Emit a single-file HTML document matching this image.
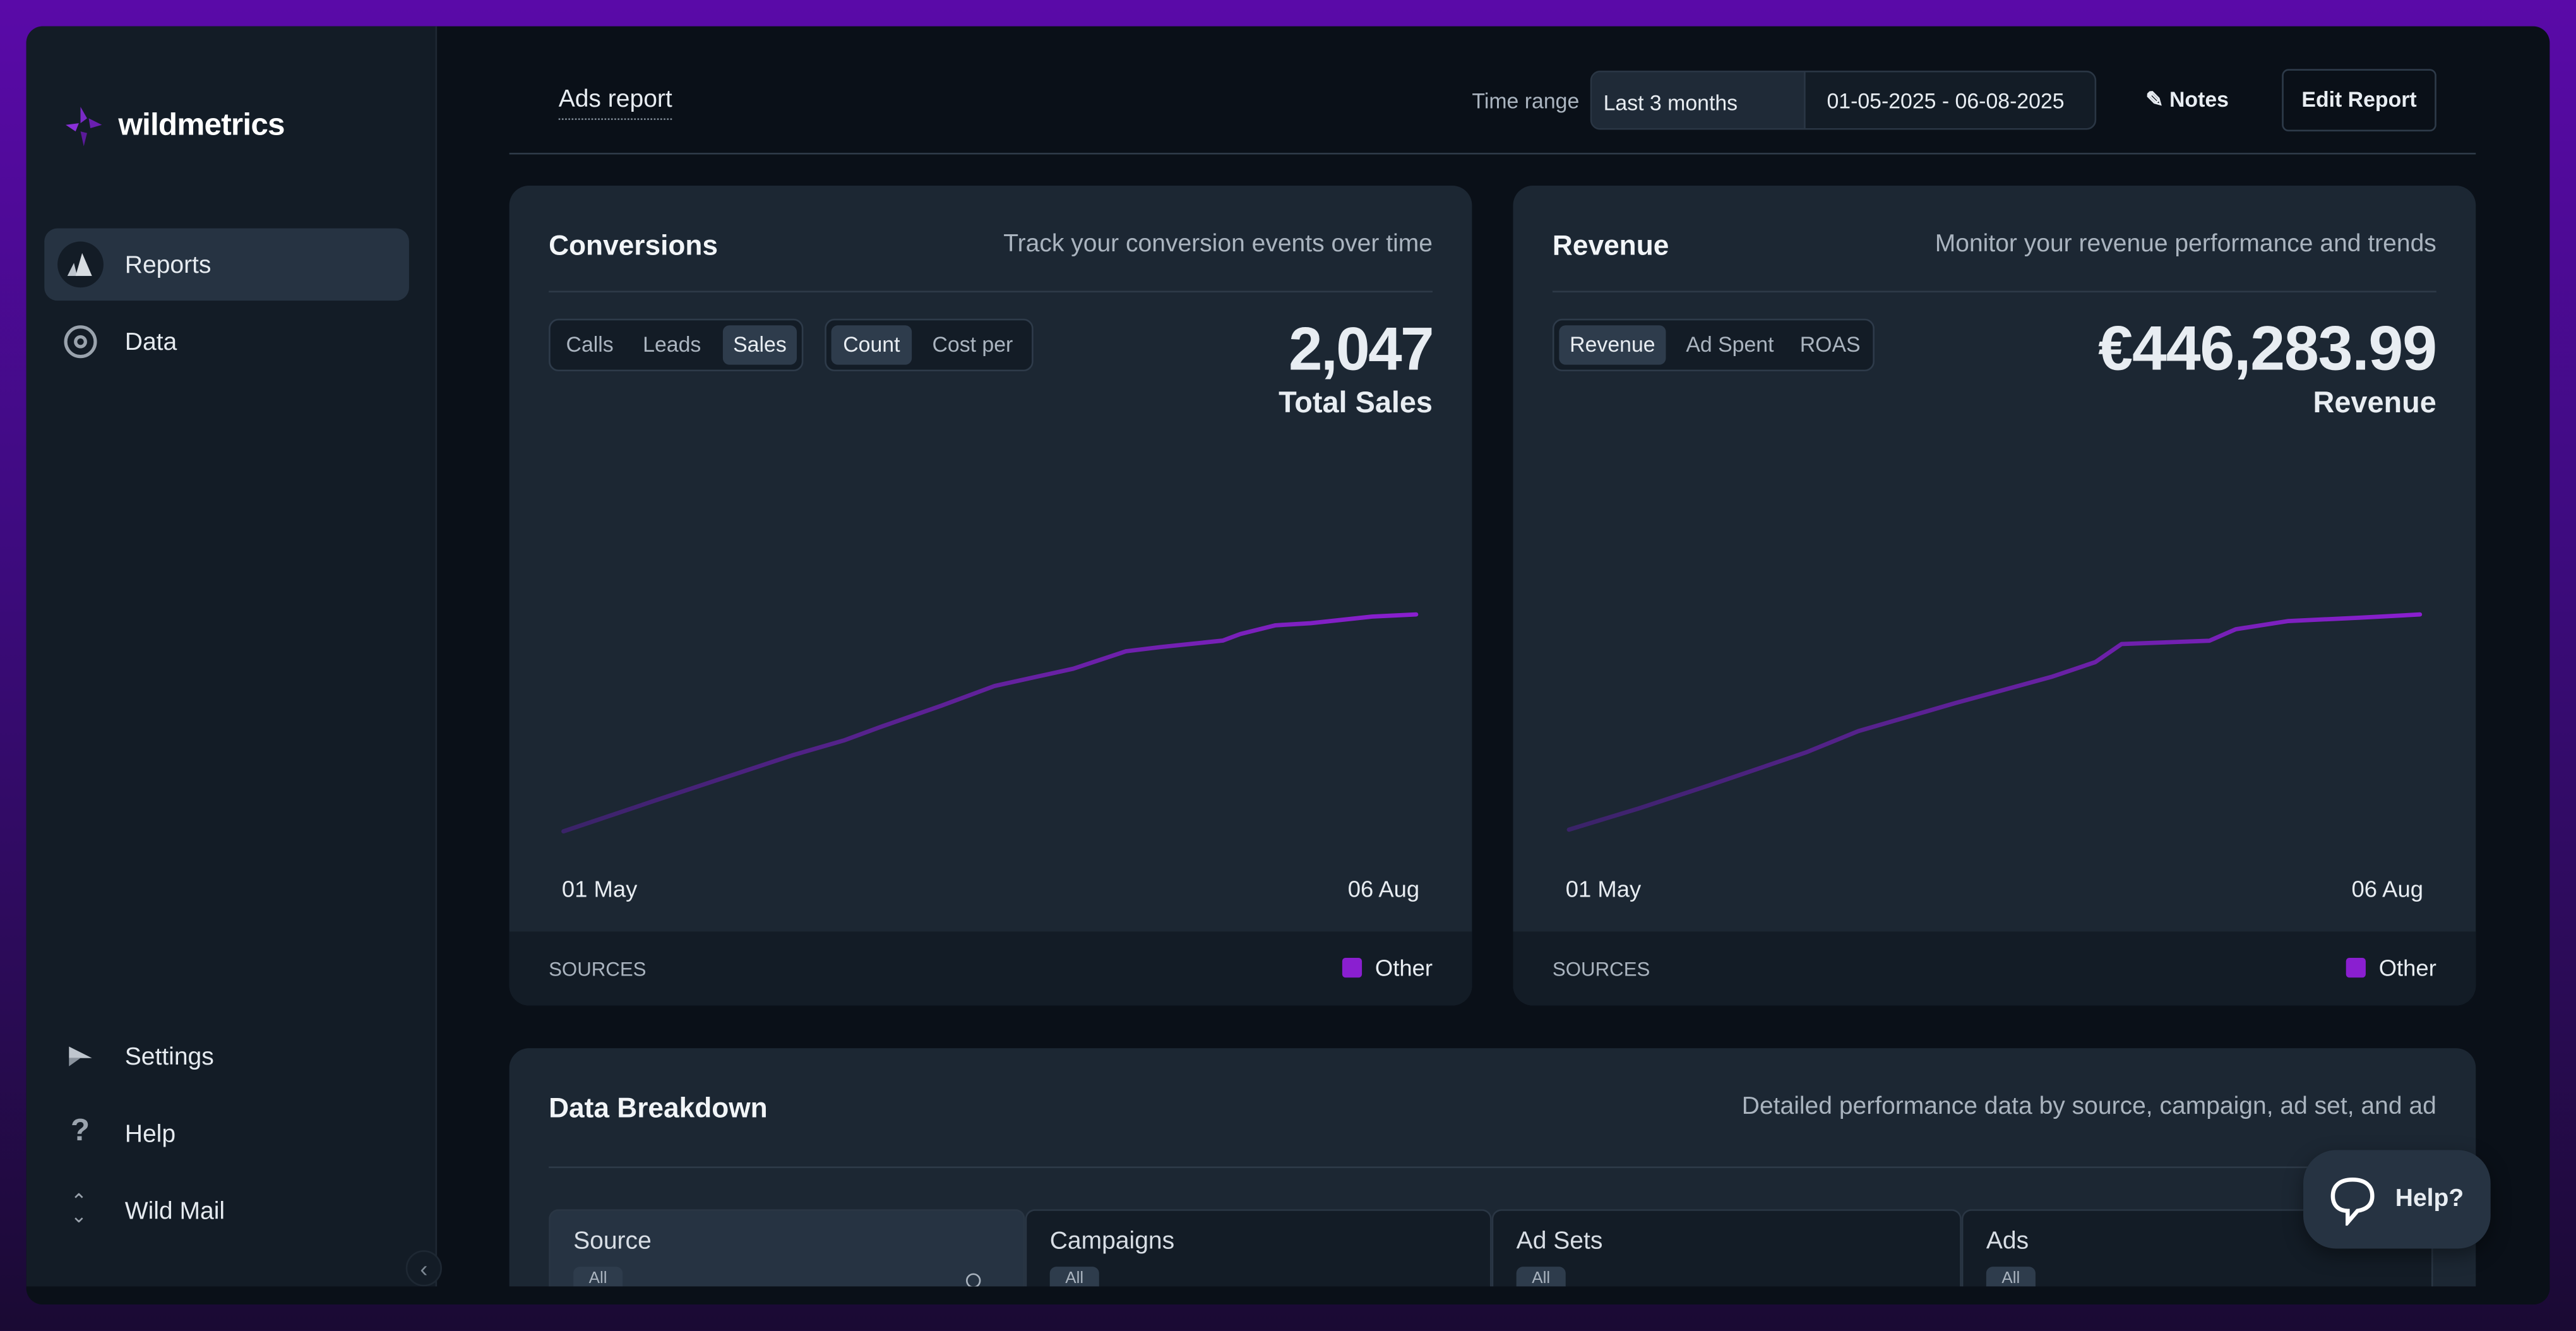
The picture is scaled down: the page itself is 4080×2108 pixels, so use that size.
<!DOCTYPE html>
<html><head><meta charset="utf-8">
<style>
*{box-sizing:border-box;margin:0;padding:0}
html,body{width:4080px;height:2108px;overflow:hidden;background:#2a0a5a}
body{font-family:"Liberation Sans",sans-serif;color:#e8edf2}
#stage{position:absolute;left:0;top:0;width:1568px;height:810px;transform:scale(2.60204);transform-origin:0 0;
 background:linear-gradient(180deg,#5a0aa8 0%,#3e0b80 40%,#2a0b55 75%,#1a0a33 100%)}
.abs{position:absolute}
#win{left:16px;top:16px;width:1536px;height:778px;border-radius:10px;background:#0a1018;overflow:hidden}
#side{left:0;top:0;width:250px;height:778px;background:#131c26;border-right:1px solid #1e2833}
.nav{position:absolute;left:11px;width:222px;height:44px;border-radius:8px;font-size:15px;color:#e6ebf0}
.nav span{position:absolute;left:49px;top:14px}
.card{background:#1c2733;border-radius:12px;overflow:hidden}
.title{font-size:17px;font-weight:bold;color:#f2f5f8}
.sub{font-size:15px;color:#aab4bf;text-align:right}
.seg{position:absolute;height:32px;border:1px solid #2e3b4a;border-radius:6px;background:#131c26}
.seg div{position:absolute;top:3px;height:24px;border-radius:4px;font-size:13px;color:#aab4bf;line-height:24px;text-align:center}
.seg .on{background:#2e3c4c;color:#e8edf2}
.foot{position:absolute;left:0;bottom:0;width:100%;height:45px;background:#131c26}
.tab{position:absolute;top:98px;height:50px;border:1px solid #2a3644;border-bottom:none;border-radius:6px 6px 0 0;background:#131c26;font-size:15px;color:#d8dee5}
.tab span{position:absolute;left:14px;top:10px}
.tab i{position:absolute;left:14px;top:34px;width:30px;height:16px;border-radius:4px;background:#2e3c4c;font-style:normal;font-size:10px;color:#aab4bf;text-align:center;line-height:16px}
</style></head>
<body>
<div id="stage">
<div id="win" class="abs">
 <div id="side" class="abs">
  <svg class="abs" style="left:22px;top:48px" width="26" height="26" viewBox="0 0 26 26">
   <path d="M11 1 L15 8 L11 11 Z" fill="#7a2ac8"/><path d="M16 8 L24 12 L17 14 Z" fill="#6a1fb0"/><path d="M2 12 L10 11 L8 16 Z" fill="#8a30d8"/><path d="M11 16 L15 17 L13 25 Z" fill="#5a1a9a"/>
  </svg>
  <div class="abs" style="left:56px;top:50px;font-size:19px;font-weight:bold;color:#fff;letter-spacing:-0.3px">wildmetrics</div>
  <div class="nav" style="top:123px;background:#263342">
   <div class="abs" style="left:8px;top:8px;width:28px;height:28px;border-radius:50%;background:#131c26"></div>
   <svg class="abs" style="left:14px;top:15px" width="16" height="14" viewBox="0 0 16 14"><path d="M0 14 L4 6 L6 14Z" fill="#bfc6ce"/><path d="M5 14 L9 0 L15 14Z" fill="#d8dde2"/></svg>
   <span>Reports</span></div>
  <div class="nav" style="top:170px">
   <div class="abs" style="left:12px;top:12px;width:20px;height:20px;border-radius:50%;border:2px solid #9aa3ad"></div>
   <div class="abs" style="left:18px;top:18px;width:8px;height:8px;border-radius:50%;border:2px solid #9aa3ad"></div>
   <span>Data</span></div>
  <div class="nav" style="top:605px">
   <svg class="abs" style="left:14px;top:14px" width="16" height="16" viewBox="0 0 16 16"><path d="M1 2 L15 9 L1 9Z" fill="#bfc6ce"/><path d="M1 9 L8 9 L1 14Z" fill="#8a939d"/></svg>
   <span>Settings</span></div>
  <div class="nav" style="top:652px">
   <div class="abs" style="left:16px;top:10px;font-size:19px;font-weight:bold;color:#9aa3ad">?</div><span>Help</span></div>
  <div class="nav" style="top:699px">
   <div class="abs" style="left:16px;top:12px;font-size:12px;color:#9aa3ad;line-height:9px">⌃<br>⌄</div><span>Wild Mail</span></div>
 </div>
 <div class="abs" style="left:231px;top:745px;width:22px;height:22px;border-radius:50%;background:#131c26;border:1px solid #1e2833;color:#7d8893;font-size:14px;text-align:center;line-height:20px">‹</div>

 <div class="abs" style="left:324px;top:36px;font-size:15px;color:#e8edf2;padding-bottom:3px;border-bottom:1px dotted #7d8893">Ads report</div>
 <div class="abs" style="left:880px;top:38px;font-size:13px;color:#aab4bf">Time range</div>
 <div class="abs" style="left:952px;top:27px;width:308px;height:36px;border:1px solid #2a3644;border-radius:6px;background:#131c26;overflow:hidden">
  <div class="abs" style="left:0;top:0;width:130px;height:36px;background:#1f2a37;border-right:1px solid #2a3644;font-size:13px;padding:11px 7px">Last 3 months</div>
  <div class="abs" style="left:143px;top:10px;font-size:13px">01-05-2025 - 06-08-2025</div>
 </div>
 <div class="abs" style="left:1290px;top:37px;font-size:13px;font-weight:bold">✎ Notes</div>
 <div class="abs" style="left:1373px;top:26px;width:94px;height:38px;border:1px solid #2e3b4a;border-radius:4px;font-size:13px;font-weight:bold;text-align:center;line-height:36px">Edit Report</div>
 <div class="abs" style="left:294px;top:77px;width:1197px;height:1px;background:#2e3a48"></div>

 <!-- Conversions -->
 <div class="abs card" style="left:294px;top:97px;width:586px;height:499px">
  <div class="abs title" style="left:24px;top:27px">Conversions</div>
  <div class="abs sub" style="right:24px;top:27px">Track your conversion events over time</div>
  <div class="abs" style="left:24px;top:64px;width:538px;height:1px;background:#2e3a48"></div>
  <div class="seg" style="left:24px;top:81px;width:155px">
   <div style="left:3px;width:42px">Calls</div>
   <div style="left:50px;width:48px">Leads</div>
   <div class="on" style="left:105px;width:45px">Sales</div></div>
  <div class="seg" style="left:192px;top:81px;width:127px">
   <div class="on" style="left:3px;width:49px">Count</div>
   <div style="left:56px;width:66px">Cost per</div></div>
  <div class="abs" style="right:24px;top:79px;font-size:37px;font-weight:bold;letter-spacing:-1px">2,047</div>
  <div class="abs" style="right:24px;top:122px;font-size:18px;font-weight:bold">Total Sales</div>
  <svg id="convChart" class="abs" style="left:0;top:0" width="586" height="499"></svg>
  <div class="abs" style="left:32px;top:420px;font-size:14px">01 May</div>
  <div class="abs" style="right:32px;top:420px;font-size:14px">06 Aug</div>
  <div class="foot">
   <div class="abs" style="left:24px;top:16px;font-size:12px;color:#aab4bf">SOURCES</div>
   <div class="abs" style="right:24px;top:14px;font-size:14px"><span style="display:inline-block;width:12px;height:12px;background:#8a1fd0;border-radius:2px;margin-right:8px;vertical-align:-1px"></span>Other</div>
  </div>
 </div>

 <!-- Revenue -->
 <div class="abs card" style="left:905px;top:97px;width:586px;height:499px">
  <div class="abs title" style="left:24px;top:27px">Revenue</div>
  <div class="abs sub" style="right:24px;top:27px">Monitor your revenue performance and trends</div>
  <div class="abs" style="left:24px;top:64px;width:538px;height:1px;background:#2e3a48"></div>
  <div class="seg" style="left:24px;top:81px;width:196px">
   <div class="on" style="left:3px;width:65px">Revenue</div>
   <div style="left:72px;width:70px">Ad Spent</div>
   <div style="left:146px;width:44px">ROAS</div></div>
  <div class="abs" style="right:24px;top:79px;font-size:38px;font-weight:bold;letter-spacing:-0.5px">€446,283.99</div>
  <div class="abs" style="right:24px;top:122px;font-size:18px;font-weight:bold">Revenue</div>
  <svg id="revChart" class="abs" style="left:0;top:0" width="586" height="499"></svg>
  <div class="abs" style="left:32px;top:420px;font-size:14px">01 May</div>
  <div class="abs" style="right:32px;top:420px;font-size:14px">06 Aug</div>
  <div class="foot">
   <div class="abs" style="left:24px;top:16px;font-size:12px;color:#aab4bf">SOURCES</div>
   <div class="abs" style="right:24px;top:14px;font-size:14px"><span style="display:inline-block;width:12px;height:12px;background:#8a1fd0;border-radius:2px;margin-right:8px;vertical-align:-1px"></span>Other</div>
  </div>
 </div>

 <!-- Data breakdown -->
 <div class="abs card" style="left:294px;top:622px;width:1197px;height:200px">
  <div class="abs title" style="left:24px;top:27px">Data Breakdown</div>
  <div class="abs sub" style="right:24px;top:27px">Detailed performance data by source, campaign, ad set, and ad</div>
  <div class="abs" style="left:24px;top:72px;width:1148px;height:1px;background:#2e3a48"></div>
  <div class="tab" style="left:24px;width:290px;background:#263342"><span>Source</span><i>All</i><b style="position:absolute;right:26px;top:38px;width:9px;height:9px;border:1.5px solid #aab4bf;border-radius:50%"></b></div>
  <div class="tab" style="left:314px;width:284px"><span>Campaigns</span><i>All</i></div>
  <div class="tab" style="left:598px;width:286px"><span>Ad Sets</span><i>All</i></div>
  <div class="tab" style="left:884px;width:287px"><span>Ads</span><i>All</i></div>
 </div>
 <div class="abs" style="left:0;top:767px;width:1536px;height:11px;background:#0a1018"></div>
 <div class="abs" style="left:1386px;top:684px;width:114px;height:60px;border-radius:20px;background:#263342;box-shadow:0 4px 12px rgba(0,0,0,.4)">
  <svg class="abs" style="left:16px;top:16px" width="28" height="30" viewBox="0 0 28 30"><path d="M14 2 C6 2 2 6 2 12 C2 18 6 21 11 21 L11 28 L17 21 C23 20 26 17 26 12 C26 6 22 2 14 2Z" fill="none" stroke="#fff" stroke-width="2.5"/></svg>
  <div class="abs" style="left:56px;top:21px;font-size:15px;font-weight:bold">Help?</div>
 </div>
</div>
</div>
<script>
// Conversions: day index and cumulative sales
const convDays = [0,11,17,26,32,36,43,49,58,64,68,75,77,81,85,92,97];
const convValues = [0,307,471,716,860,983,1187,1371,1535,1699,1740,1801,1863,1945,1965,2027,2047];
// Revenue: day index and cumulative revenue (EUR)
const revDays = [0,8,16,27,33,44,55,60,63,73,76,82,90,97];
const revValues = [0,44290,92000,160130,204410,262340,316850,347500,384960,391770,415610,432640,439450,446284];

function drawLine(svgId, days, vals, x0, x1, y0, y1, gid){
  const svg=document.getElementById(svgId), ns='http://www.w3.org/2000/svg';
  const maxD=97, maxV=Math.max(...vals);
  const xs=d=>x0+(x1-x0)*d/maxD, ys=v=>y0+(y1-y0)*v/maxV;
  const defs=document.createElementNS(ns,'defs');
  defs.innerHTML='<linearGradient id="'+gid+'" x1="0" x2="1" y1="0" y2="0"><stop offset="0" stop-color="#3a2368"/><stop offset="1" stop-color="#8a1fd0"/></linearGradient>';
  svg.appendChild(defs);
  const p=document.createElementNS(ns,'path');
  
  
  p.setAttribute('d',days.map((d,i)=>(i?'L':'M')+xs(d).toFixed(1)+' '+ys(vals[i]).toFixed(1)).join(' '));
  p.setAttribute('fill','none');p.setAttribute('stroke','url(#'+gid+')');
  p.setAttribute('stroke-width','2.6');p.setAttribute('stroke-linejoin','round');p.setAttribute('stroke-linecap','round');
  svg.appendChild(p);
}
drawLine('convChart',convDays,convValues,33,552,393,261,'g1');
drawLine('revChart',revDays,revValues,34,552,392,261,'g2');
</script>
</body></html>
